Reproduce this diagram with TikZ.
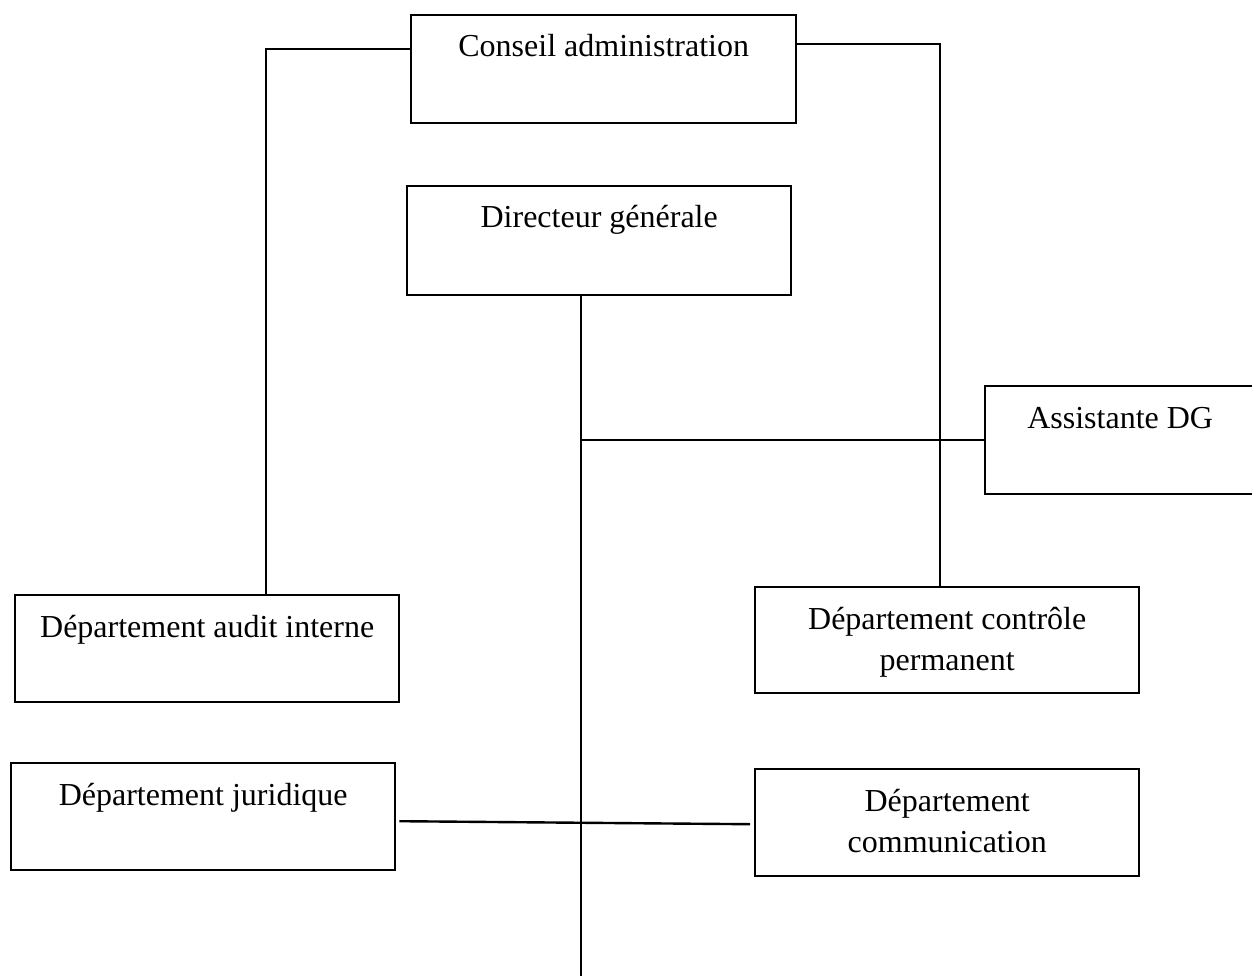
\documentclass[tikz,border=0pt]{standalone}
\usepackage{fontspec}
\setmainfont{Liberation Serif}
\begin{document}
\begin{tikzpicture}[x=1pt,y=-1pt,
  box/.style={draw, line width=2.4pt, inner sep=0pt, anchor=north west},
  lbl/.style={inner sep=0pt, align=center, anchor=base,
    font=\fontsize{32}{41}\selectfont},
  link/.style={line width=2.4pt}]
\useasboundingbox (0,0) rectangle (1252,976);
\begin{scope}
\clip (0,0) rectangle (1252,976);
% boxes
\node[box, minimum width=385pt, minimum height=108pt] (ca) at (410,14) {};
\node[box, minimum width=384pt, minimum height=109pt] (dg) at (406,185) {};
\node[box, minimum width=270pt, minimum height=108pt] (assist) at (984,385) {};
\node[box, minimum width=384pt, minimum height=107pt] (audit) at (14,594) {};
\node[box, minimum width=384pt, minimum height=106pt] (ctrl) at (754,586) {};
\node[box, minimum width=384pt, minimum height=107pt] (jur) at (10,762) {};
\node[box, minimum width=384pt, minimum height=107pt] (comm) at (754,768) {};
% labels: first baseline 43 below each box top (base = last line)
\node[lbl, yshift=-43pt] (ca-t) at (ca.north) {Conseil administration};
\node[lbl, yshift=-43pt] (dg-t) at (dg.north) {Directeur générale};
\node[lbl, yshift=-43pt] (assist-t) at (assist.north) {Assistante DG};
\node[lbl, yshift=-43pt] (audit-t) at (audit.north) {Département audit interne};
\node[lbl, yshift=-84pt] (ctrl-t) at (ctrl.north) {Département contrôle\\permanent};
\node[lbl, yshift=-43pt] (jur-t) at (jur.north) {Département juridique};
\node[lbl, yshift=-84pt] (comm-t) at (comm.north) {Département\\communication};
\end{scope}
% connectors
\coordinate (trunktop) at ([xshift=-18pt]dg.south);
\coordinate (trunkend) at (trunktop |- 0,976);
\draw[link] ([yshift=20pt]ca.west) -| ([xshift=252pt]audit.north west);
\draw[link] ([yshift=25pt]ca.east) -| ([xshift=186pt]ctrl.north west);
\draw[link] (trunktop) -- (trunkend);
\draw[link] (assist.west) -- (assist.west -| trunktop);
\draw[link] ([xshift=3pt,yshift=-4.5pt]jur.east) -- ([xshift=-4pt,yshift=-1.5pt]comm.west);
\end{tikzpicture}
\end{document}
